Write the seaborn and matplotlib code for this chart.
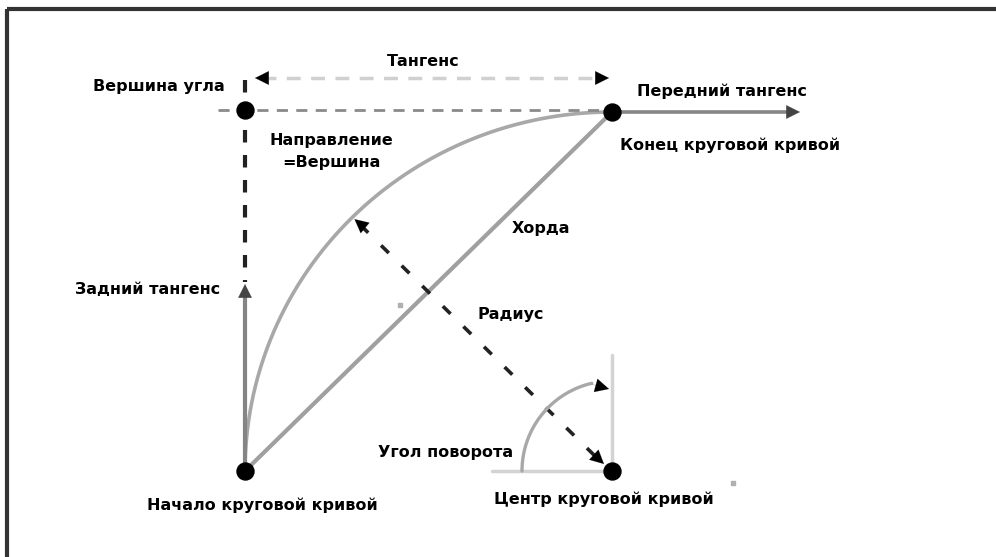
import numpy as np
import pandas as pd
import seaborn as sns
import matplotlib.pyplot as plt

# ==========================================
# DATA (diagram geometry, pixel space, y down)
# ==========================================
point_names = ["Вершина угла", "Конец круговой кривой",
               "Начало круговой кривой", "Центр круговой кривой"]
point_x = [245, 612, 245, 612]
point_y = [110, 112, 471, 471]

label_texts = ["Вершина угла", "Тангенс", "Передний тангенс", "Конец круговой кривой",
               "Направление", "=Вершина", "Хорда", "Задний тангенс", "Радиус",
               "Угол поворота", "Начало круговой кривой", "Центр круговой кривой"]
label_x = [159, 423, 722, 730, 331, 331, 541, 148, 511, 446, 262, 604]
label_y = [87, 62, 91, 145, 140, 162, 228, 290, 315, 452, 505, 499]

tangent_dim_y = 78          # "Тангенс" dimension line
back_tangent_tip = 284      # y of back tangent arrow tip
ahead_tangent_tip = 800     # x of ahead tangent arrow tip
turn_radius = 90            # radius of the turn-angle arc
turn_end_deg = 103

# ==========================================
# FIGURE
# ==========================================
sns.set_theme(style="white")
plt.rcParams['font.family'] = ['DejaVu Sans']
fig = plt.figure(figsize=(9.96, 5.57), dpi=100)
ax = fig.add_axes([0, 0, 1, 1])
ax.set_xlim(0, 996)
ax.set_ylim(557, 0)
ax.axis("off")

vx, vy = point_x[0], point_y[0]
ex, ey = point_x[1], point_y[1]
sx, sy = point_x[2], point_y[2]
cx, cy = point_x[3], point_y[3]


def head(tip, frm, color="black", size=14):
    ax.annotate("", xy=tip, xytext=frm,
                arrowprops=dict(arrowstyle="-|>,head_length=0.7,head_width=0.35",
                                color=color, lw=0.1, shrinkA=0, shrinkB=0,
                                mutation_scale=size))


# frame (only top and left edges visible)
ax.plot([7, 7], [9, 560], color="#333333", lw=3, solid_capstyle="butt")
ax.plot([7, 1000], [9, 9], color="#333333", lw=3, solid_capstyle="butt")

# circular curve
t = np.linspace(0, np.pi / 2, 200)
rx, ry = cx - sx, cy - ey
arc = pd.DataFrame({"x": cx - rx * np.cos(t), "y": cy - ry * np.sin(t)})
sns.lineplot(data=arc, x="x", y="y", sort=False, ax=ax, color="#a8a8a8", lw=2.6)

# chord
ax.plot([sx, ex], [sy, ey], color="#a0a0a0", lw=3)

# back tangent
ax.plot([sx, sx], [sy, back_tangent_tip + 8], color="#858585", lw=3)
head((sx, back_tangent_tip), (sx, back_tangent_tip + 12), color="#444444")

# ahead tangent
ax.plot([ex, ahead_tangent_tip - 8], [ey, ey], color="#858585", lw=2.6)
head((ahead_tangent_tip, ey), (ahead_tangent_tip - 12, ey), color="#444444")

# dashed vertical / horizontal through vertex
ax.plot([vx, vx], [80, back_tangent_tip - 2], color="#222222", lw=3, dashes=(3, 3))
ax.plot([218, ex - 6], [vy, vy], color="#8a8a8a", lw=2, dashes=(4, 3))

# tangent dimension line
ax.plot([262, 600], [tangent_dim_y, tangent_dim_y], color="#d0d0d0", lw=2.5, dashes=(4, 3))
head((255, tangent_dim_y), (268, tangent_dim_y))
head((609, tangent_dim_y), (596, tangent_dim_y))

# radius (double arrow, dashed)
t45 = np.pi / 4
px, py = cx - rx * np.cos(t45), cy - ry * np.sin(t45)
ax.plot([px + 8, cx - 14], [py + 8, cy - 12], color="#222222", lw=2.6, dashes=(3, 5))
head((px + 2, py + 2), (px + 14, py + 12))
head((cx - 8, cy - 7), (cx - 20, cy - 18))

# turn angle marker
ax.plot([492, cx], [cy, cy], color="#d3d3d3", lw=2.5)
ax.plot([cx, cx], [355, cy], color="#d3d3d3", lw=2.5)
a = np.radians(np.linspace(180, turn_end_deg, 60))
turn = pd.DataFrame({"x": cx + turn_radius * np.cos(a), "y": cy - turn_radius * np.sin(a)})
sns.lineplot(data=turn, x="x", y="y", sort=False, ax=ax, color="#a8a8a8", lw=2.4)
head((cx - 3, 389), (turn["x"].iloc[-1], turn["y"].iloc[-1] + 1))

# key points
pts = pd.DataFrame({"name": point_names, "x": point_x, "y": point_y})
sns.scatterplot(data=pts, x="x", y="y", ax=ax, color="black", s=150,
                edgecolor="black", zorder=5, legend=False)

# stray specks
ax.scatter([733, 400], [483, 305], marker="s", s=8, color="#b0b0b0", zorder=4)

# labels
for txt, x, y in zip(label_texts, label_x, label_y):
    ax.text(x, y, txt, ha="center", va="center", fontsize=11.5,
            fontweight="bold", color="black")

ax.set_xlabel("")
ax.set_ylabel("")
fig.savefig("out.png", dpi=100)
